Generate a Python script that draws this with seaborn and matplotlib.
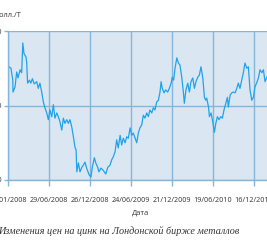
import matplotlib
matplotlib.use("Agg")
import matplotlib.pyplot as plt
import matplotlib.dates as mdates
import seaborn as sns
import pandas as pd
import numpy as np

dates = [
    "2008-01-05", "2008-01-14", "2008-01-22", "2008-01-23", "2008-02-01", "2008-02-08",
    "2008-02-14", "2008-02-23", "2008-03-01", "2008-03-06", "2008-03-11", "2008-03-20",
    "2008-03-23", "2008-03-27", "2008-04-04", "2008-04-10", "2008-04-17", "2008-04-25",
    "2008-05-06", "2008-05-13", "2008-05-20", "2008-05-28", "2008-06-04", "2008-06-11",
    "2008-06-19", "2008-06-26", "2008-07-03", "2008-07-11", "2008-07-18", "2008-07-25",
    "2008-08-02", "2008-08-09", "2008-08-16", "2008-08-24", "2008-08-31", "2008-09-07",
    "2008-09-15", "2008-09-22", "2008-09-29", "2008-10-07", "2008-10-14", "2008-10-21",
    "2008-10-26", "2008-10-29", "2008-11-05", "2008-11-12", "2008-11-20", "2008-11-27",
    "2008-12-04", "2008-12-11", "2008-12-22", "2008-12-30",
    "2009-01-05", "2009-01-14", "2009-01-20", "2009-01-29", "2009-02-03", "2009-02-12",
    "2009-02-22", "2009-03-05", "2009-03-14", "2009-03-24", "2009-03-31", "2009-04-07",
    "2009-04-15", "2009-04-22", "2009-04-29", "2009-05-07", "2009-05-14", "2009-05-21",
    "2009-05-29", "2009-06-05", "2009-06-12", "2009-06-20", "2009-06-27", "2009-07-04",
    "2009-07-12", "2009-07-19", "2009-07-26", "2009-08-02", "2009-08-10", "2009-08-17",
    "2009-08-24", "2009-09-01", "2009-09-08", "2009-09-15", "2009-09-23", "2009-09-30",
    "2009-10-07", "2009-10-15", "2009-10-22", "2009-10-29", "2009-11-03", "2009-11-08",
    "2009-11-16", "2009-11-23", "2009-12-02", "2009-12-09", "2009-12-17", "2009-12-22",
    "2009-12-28",
    "2010-01-03", "2010-01-11", "2010-01-18", "2010-01-25", "2010-02-02", "2010-02-09",
    "2010-02-13", "2010-02-20", "2010-02-28", "2010-03-07", "2010-03-14", "2010-03-22",
    "2010-03-29", "2010-04-05", "2010-04-13", "2010-04-20", "2010-04-27", "2010-05-05",
    "2010-05-12", "2010-05-18", "2010-05-22", "2010-05-30", "2010-06-03", "2010-06-10",
    "2010-06-16", "2010-06-25", "2010-07-01", "2010-07-08", "2010-07-15", "2010-07-23",
    "2010-07-30", "2010-08-06", "2010-08-14", "2010-08-21", "2010-08-25", "2010-09-02",
    "2010-09-09", "2010-09-16", "2010-09-24", "2010-10-01", "2010-10-08", "2010-10-15",
    "2010-10-23", "2010-10-30", "2010-11-06", "2010-11-14", "2010-11-21", "2010-11-28",
    "2010-12-06", "2010-12-13", "2010-12-20", "2010-12-27",
    "2011-01-04", "2011-01-11", "2011-01-19", "2011-01-26", "2011-02-02", "2011-02-09",
    "2011-02-16", "2011-02-23",
]
prices = [
    2520, 2500, 2340, 2180, 2250, 2450,
    2370, 2480, 2440, 2840, 2700, 2650,
    2580, 2300, 2340, 2300, 2360, 2290,
    2320, 2230, 2300, 2180, 2050, 1970,
    1900, 1810, 1940, 1850, 2010, 1830,
    1900, 1850, 1780, 1670, 1830, 1760,
    1810, 1760, 1810, 1710, 1580, 1440,
    1400, 1110, 1230, 1110, 1170, 1200,
    1240, 1160, 1070, 1040,
    1170, 1300, 1230, 1170, 1110, 1160,
    1130, 1080, 1170, 1200, 1270, 1310,
    1380, 1540, 1430, 1600, 1470, 1560,
    1500, 1580, 1560, 1700, 1600, 1630,
    1560, 1500, 1630, 1700, 1740, 1870,
    1830, 1900, 1850, 1940, 1900, 1970,
    1940, 2050, 2070, 2180, 2320, 2230,
    2170, 2210, 2180, 2230, 2300, 2380,
    2340,
    2500, 2640, 2570, 2540, 2370, 2170,
    2030, 2210, 2300, 2180, 2320, 2370,
    2230, 2320, 2380, 2410, 2520, 2370,
    2110, 2070, 2100, 1980, 1850, 1900,
    1810, 1640, 1760, 1850, 1810, 1850,
    1830, 1940, 2030, 2110, 1980, 2140,
    2170, 2180, 2170, 2230, 2300, 2230,
    2340, 2440, 2570, 2500, 2520, 2210,
    2070, 2110, 2250, 2300,
    2370, 2480, 2440, 2480, 2320, 2370,
    2420, 2450,
]
tick_dates = ["2008-01-01", "2008-06-29", "2008-12-26", "2009-06-24",
              "2009-12-21", "2010-06-19", "2010-12-16"]
y_ticks = [1000, 2000, 3000]
y_label = "Долл./Т"
x_label = "Дата"
caption = "Изменения цен на цинк на Лондонской бирже металлов"

df = pd.DataFrame({"date": pd.to_datetime(dates), "price": prices})

W, H = 267, 243
fig = plt.figure(figsize=(W / 100, H / 100), dpi=100)
fig.patch.set_facecolor("white")

ax_l, ax_r, ax_t, ax_b = 8, 278, 31, 180
ax = fig.add_axes([ax_l / W, 1 - ax_b / H, (ax_r - ax_l) / W, (ax_b - ax_t) / H])
ax.set_facecolor("#dae7f3")

grid_c = "#86b5da"
line_c = "#1fa3ea"

sns.lineplot(data=df, x="date", y="price", ax=ax, color=line_c, linewidth=0.9)

ax.set_xlim(pd.Timestamp("2008-01-01"), pd.Timestamp("2011-03-31"))
ax.set_ylim(y_ticks[0], y_ticks[-1])
ax.set_yticks(y_ticks)
ax.set_xticks(pd.to_datetime(tick_dates))
ax.xaxis.set_major_formatter(mdates.DateFormatter("%d/%m/%Y"))

ax.grid(True, color=grid_c, linewidth=1.0)
ax.set_axisbelow(True)
for s in ["top", "right"]:
    ax.spines[s].set_visible(False)
for s in ["left", "bottom"]:
    ax.spines[s].set_color(grid_c)
    ax.spines[s].set_linewidth(1.0)

ax.tick_params(axis="x", length=4, width=1.0, color=grid_c, pad=8,
               labelsize=5.2, labelcolor="#333333")
ax.tick_params(axis="y", length=3, width=1.0, color=grid_c, pad=1,
               labelsize=5.2, labelcolor="#333333")
for lab in ax.get_xticklabels() + ax.get_yticklabels():
    lab.set_fontfamily("Open Sans")

ax.set_xlabel("")
ax.set_ylabel("")

fig.text(22 / W, 1 - 15 / H, y_label, ha="right", va="center",
         fontsize=5.4, family="Open Sans", color="#333333")
fig.text(140 / W, 1 - 213 / H, x_label, ha="center", va="center",
         fontsize=5.4, family="Open Sans", color="#333333")
fig.text(-2 / W, 1 - 231 / H, caption, ha="left", va="center",
         fontsize=7.3, family="Liberation Serif", style="italic", color="#333333")

fig.savefig("out.png", dpi=100)
